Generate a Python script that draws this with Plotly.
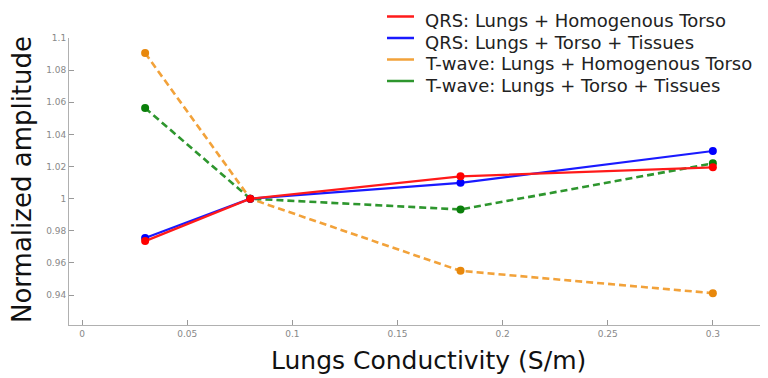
import plotly.graph_objects as go

conductivity = [0.03, 0.08, 0.18, 0.3]
qrs_homog = [0.9736, 1.0, 1.0139, 1.0195]
qrs_tissues = [0.9755, 1.0, 1.0099, 1.0297]
twave_homog = [1.0906, 1.0, 0.9551, 0.9412]
twave_tissues = [1.0564, 1.0, 0.9933, 1.0220]

names = ["QRS: Lungs + Homogenous Torso", "QRS: Lungs + Torso + Tissues",
         "T-wave: Lungs + Homogenous Torso", "T-wave: Lungs + Torso + Tissues"]

x_ticks = [0, 0.05, 0.1, 0.15, 0.2, 0.25, 0.3]
x_tick_text = ["0", "0.05", "0.1", "0.15", "0.2", "0.25", "0.3"]
y_ticks = [0.94, 0.96, 0.98, 1.0, 1.02, 1.04, 1.06, 1.08, 1.1]
y_tick_text = ["0.94", "0.96", "0.98", "1", "1.02", "1.04", "1.06", "1.08", "1.1"]

series = [qrs_homog, qrs_tissues, twave_homog, twave_tissues]
line_colors = ["#ff1a1a", "#1a1aff", "#f2a23a", "#2e962e"]
marker_colors = ["#ff0000", "#0000ff", "#e8880c", "#0a7f0a"]
dashes = ["solid", "solid", "7px,4px", "7px,4px"]
widths = [2.2, 2.2, 2.6, 2.6]

# page is rendered with an 8px body margin; figure geometry accounts for it
W, H = 760, 370
ML, MR, MT, MB = 61, 3, 30, 53
PW, PH = W - ML - MR, H - MT - MB
OFF = 8


def px(page_x):
    return (page_x - OFF - ML) / PW


def py(page_y):
    return (OFF + MT + PH - page_y) / PH


fig = go.Figure()
for i in [2, 3, 1, 0]:
    fig.add_trace(go.Scatter(
        x=conductivity, y=series[i], mode="lines+markers", name=names[i],
        line=dict(color=line_colors[i], width=widths[i], dash=dashes[i]),
        marker=dict(color=marker_colors[i], size=8),
        showlegend=False))

# legend drawn as line samples + labels (matplotlib-style compact legend)
text_rows = [20.5, 42, 63.5, 85]
shapes = []
annotations = []
for i in range(4):
    ly = py(text_rows[i] - 4)
    shapes.append(dict(type="line", xref="paper", yref="paper",
                       x0=px(387), x1=px(414), y0=ly, y1=ly,
                       line=dict(color=line_colors[i], width=2.5)))
    annotations.append(dict(text=names[i], xref="paper", yref="paper",
                            x=px(423), y=py(text_rows[i]), xanchor="left",
                            yanchor="middle", showarrow=False,
                            font=dict(family="DejaVu Sans", size=18, color="#222222")))

annotations.append(dict(text="Lungs Conductivity (S/m)", xref="paper", yref="paper",
                        x=px(428), y=py(360), xanchor="center", yanchor="middle",
                        showarrow=False,
                        font=dict(family="DejaVu Sans", size=25, color="#111111")))
annotations.append(dict(text="Normalized amplitude", xref="paper", yref="paper",
                        x=px(22), y=py(180), xanchor="center", yanchor="middle",
                        textangle=-90, showarrow=False,
                        font=dict(family="DejaVu Sans", size=26, color="#111111")))

axis_common = dict(showgrid=False, zeroline=False, showline=True,
                   linecolor="#b0b0b0", linewidth=1, ticks="inside",
                   ticklen=5, tickcolor="#999999",
                   tickfont=dict(family="DejaVu Sans", size=9, color="#888888"))

fig.update_layout(
    width=W, height=H,
    margin=dict(l=ML, r=MR, t=MT, b=MB),
    paper_bgcolor="white", plot_bgcolor="white",
    showlegend=False,
    xaxis=dict(range=[-0.0062, 0.3248], tickvals=x_ticks, ticktext=x_tick_text,
               **axis_common),
    yaxis=dict(range=[0.9214, 1.1], tickvals=y_ticks, ticktext=y_tick_text,
               **axis_common),
    shapes=shapes,
    annotations=annotations,
)

fig.write_html("out.html")
